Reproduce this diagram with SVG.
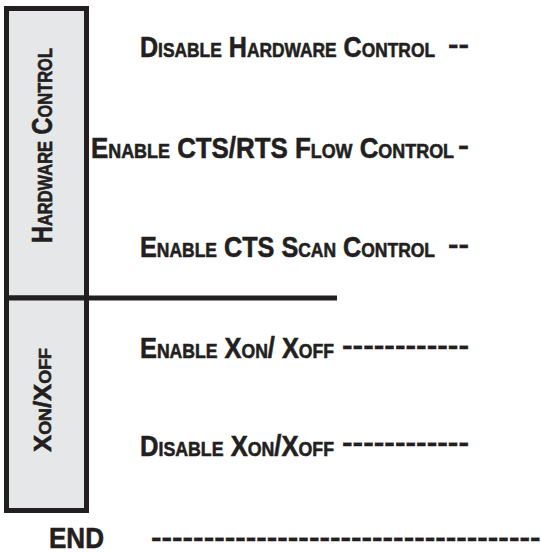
<svg xmlns="http://www.w3.org/2000/svg" width="541" height="553" viewBox="0 0 541 553">
<style>
.box{fill:#e6e7e8;stroke:#231f20;stroke-width:5}
.sep{stroke:#231f20;stroke-width:5;fill:none}
text{font-family:"Liberation Sans",Arial,sans-serif;font-weight:bold;fill:#231f20;stroke:#231f20;stroke-width:0.6;font-variant:small-caps}
.lbl{font-size:30px}
.dash{font-size:28px;stroke-width:0.4}
</style>
<rect width="541" height="553" fill="#ffffff"/>
<g id="hardware-control">
<rect class="box" x="6.5" y="8.5" width="80" height="289.5"/>
<text font-size="30" transform="translate(52,243) rotate(-90) scale(0.55,1)" textLength="354.5" lengthAdjust="spacingAndGlyphs">Hardware Control</text>
</g>
<g id="xon-xoff">
<rect class="box" x="6.5" y="298" width="80" height="212.5"/>
<text font-size="23" transform="translate(51,452) rotate(-90)" textLength="104" lengthAdjust="spacingAndGlyphs">Xon/Xoff</text>
</g>
<g id="separator">
<line class="sep" x1="86" y1="298" x2="337" y2="298"/>
</g>
<g id="row-disable-hw">
<text class="lbl" transform="translate(140,57) scale(0.82,1)" textLength="359.8" lengthAdjust="spacingAndGlyphs">Disable Hardware Control</text>
<text class="dash" x="448" y="54" textLength="21" lengthAdjust="spacingAndGlyphs">--</text>
</g>
<g id="row-enable-ctsrts">
<text class="lbl" transform="translate(91,158) scale(0.82,1)" textLength="442.7" lengthAdjust="spacingAndGlyphs">Enable CTS/RTS Flow Control</text>
<text class="dash" x="458" y="155" textLength="11" lengthAdjust="spacingAndGlyphs">-</text>
</g>
<g id="row-enable-cts-scan">
<text class="lbl" transform="translate(140,257) scale(0.82,1)" textLength="359.8" lengthAdjust="spacingAndGlyphs">Enable CTS Scan Control</text>
<text class="dash" x="448" y="254" textLength="21" lengthAdjust="spacingAndGlyphs">--</text>
</g>
<g id="row-enable-xon">
<text class="lbl" transform="translate(140,358) scale(0.82,1)" textLength="236.6" lengthAdjust="spacingAndGlyphs">Enable Xon/ Xoff</text>
<text class="dash" x="342" y="355" textLength="127" lengthAdjust="spacingAndGlyphs">------------</text>
</g>
<g id="row-disable-xon">
<text class="lbl" transform="translate(140,456) scale(0.82,1)" textLength="236.6" lengthAdjust="spacingAndGlyphs">Disable Xon/Xoff</text>
<text class="dash" x="342" y="452" textLength="127" lengthAdjust="spacingAndGlyphs">------------</text>
</g>
<g id="row-end">
<text class="lbl" transform="translate(49,548) scale(0.85,1)" textLength="64.7" lengthAdjust="spacingAndGlyphs">END</text>
<text class="dash" x="151" y="547" textLength="400" lengthAdjust="spacingAndGlyphs">--------------------------------------</text>
</g>
</svg>
